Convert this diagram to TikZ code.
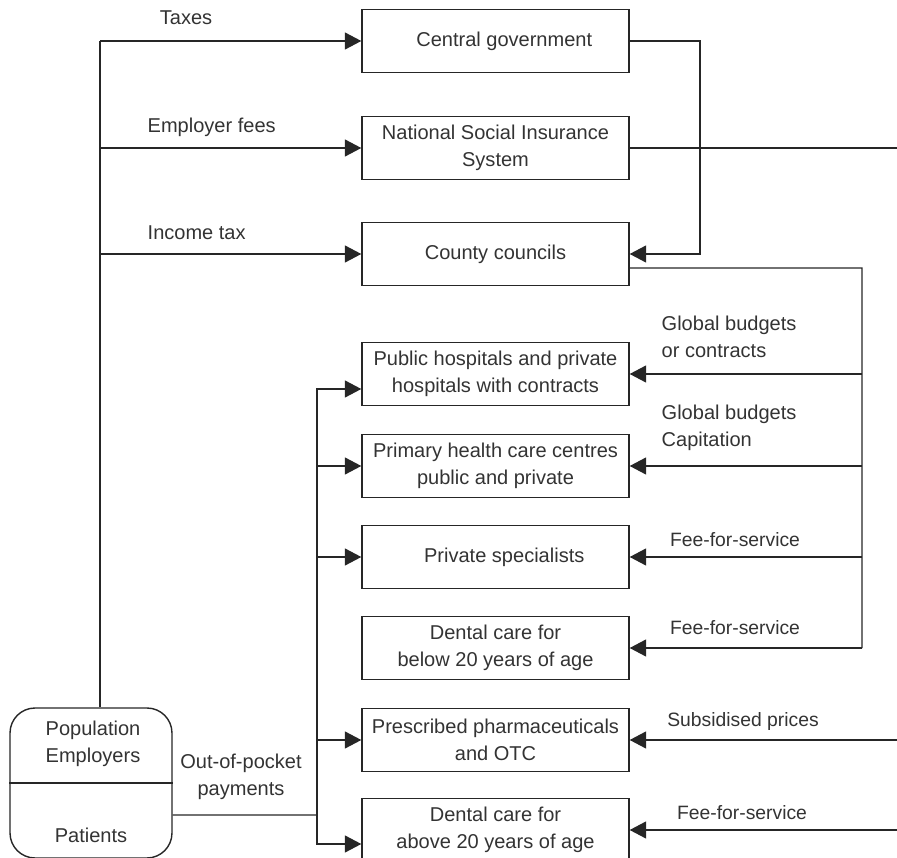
\documentclass[tikz,border=0pt]{standalone}
\usepackage{fontspec}
\setmainfont{Liberation Sans}
\usetikzlibrary{arrows.meta, positioning}

\begin{document}
\begin{tikzpicture}[x=0.02cm, y=-0.02cm, line width=0.8pt, color=black!85,
    every node/.style={font=\fontsize{11.4}{15.6}\selectfont, text=black!80, align=center},
    box/.style={draw, minimum width=5.34cm, minimum height=1.26cm, inner sep=0pt},
    tag/.style={align=left, inner sep=0pt},
    small/.style={font=\fontsize{11}{14}\selectfont, inner sep=0pt},
    flow/.style={-{Triangle[length=0.33cm, width=0.34cm]}}]
\useasboundingbox (0,0) rectangle (897,858);

\node[box] (cg) at (495.5,41) {\hspace*{0.35cm}Central government};
\node[box] (nsis) at (495.5,148) {National Social Insurance\\System};
\node[box] (cc) at (495.5,254) {County councils};
\node[box] (hosp) at (495.5,374) {Public hospitals and private\\hospitals with contracts};
\node[box] (phc) at (495.5,466) {Primary health care centres\\public and private};
\node[box] (spec) at (495.5,557) {\hspace*{0.35cm}Private specialists};
\node[box] (dentlo) at (495.5,648) {Dental care for\\below 20 years of age};
\node[box] (pharm) at (495.5,740) {Prescribed pharmaceuticals\\and OTC};
\node[box] (denthi) at (495.5,830) {Dental care for\\above 20 years of age};

\node[draw, rounded corners=0.5cm, minimum width=3.24cm, minimum height=3cm] (pop) at (91,783) {};
\draw (pop.west) -- (pop.east);
\node (popa) at (93,744) {Population\\Employers};
\node (popb) at (91,835) {Patients};

\coordinate (tbus) at (100,41);
\draw (pop.north -| tbus) -- (tbus);
\draw[flow] (tbus) -- (cg.west);
\draw[flow] (tbus |- nsis.west) -- (nsis.west);
\draw[flow] (tbus |- cc.west) -- (cc.west);
\node (taxes) at (186,18) {Taxes};
\node[tag, anchor=west] (empfee) at (147,127) {Employer fees};
\node[tag, anchor=west] (inctax) at (147,233) {Income tax};

\coordinate (gbus) at (700,0);
\coordinate (rim) at (897,0);
\coordinate (cbus) at (862,268);
\draw[flow] (cg.east) -- (cg.east -| gbus) |- (cc.east);
\draw (nsis.east) -- (nsis.east -| rim);
\draw ([yshift=-0.28cm]cc.east) -- (cbus) -- (cbus |- dentlo.east);
\draw[flow] (cbus |- hosp.east) -- (hosp.east);
\draw[flow] (cbus |- phc.east) -- (phc.east);
\draw[flow] (cbus |- spec.east) -- (spec.east);
\draw[flow] (cbus |- dentlo.east) -- (dentlo.east);
\draw[flow] (pharm.east -| rim) -- (pharm.east);
\draw[flow] (denthi.east -| rim) -- (denthi.east);
\node[tag, anchor=west] (gbhosp) at (661,337) {Global budgets\\or contracts};
\node[tag, anchor=west] (gbphc) at (661,428) {Global budgets\\Capitation};
\node[small] (ffsspec) at (735,540) {Fee-for-service};
\node[small] (ffsdentlo) at (735,628) {Fee-for-service};
\node[small] (subsid) at (743,722) {Subsidised prices};
\node[small] (ffsdenthi) at (742,813) {Fee-for-service};

\coordinate (lbus) at (317,815);
\draw ([yshift=-0.64cm]pop.east) -- (lbus);
\draw[flow] (lbus) |- ([yshift=-0.3cm]hosp.west);
\draw[flow] (lbus) |- (phc.west);
\draw[flow] (lbus) |- (spec.west);
\draw[flow] (lbus) |- (pharm.west);
\draw[flow] (lbus) |- ([yshift=-0.28cm]denthi.west);
\node (oopay) at (241,777) {Out-of-pocket\\payments};
\end{tikzpicture}
\end{document}
